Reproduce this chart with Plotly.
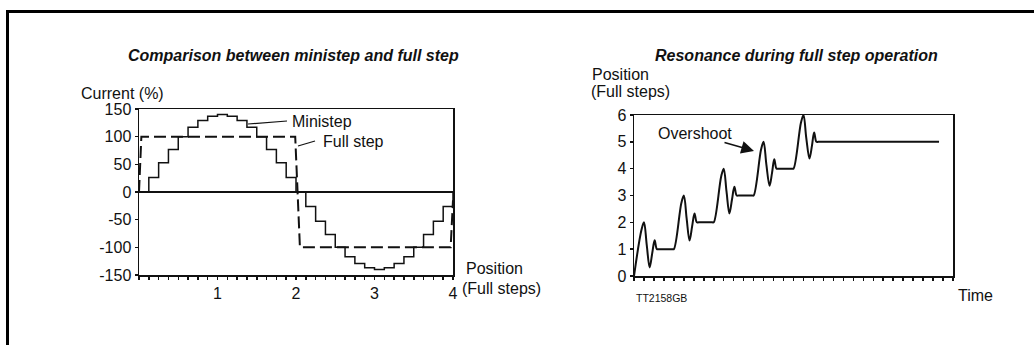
import plotly.graph_objects as go

W, H = 1034, 345

# ---------------- data: left chart (current vs position) ----------------
ministep_pos = [0, 0.125, 0.25, 0.375, 0.5, 0.625, 0.75, 0.875, 1.0, 1.125, 1.25, 1.375,
                1.5, 1.625, 1.75, 1.875, 2.0, 2.125, 2.25, 2.375, 2.5, 2.625, 2.75, 2.875,
                3.0, 3.125, 3.25, 3.375, 3.5, 3.625, 3.75, 3.875, 4.0]
ministep_current = [0, 26, 53, 77, 100, 117, 129, 137, 140, 137, 129, 117, 100, 77, 53, 26,
                    0, -26, -53, -77, -100, -117, -129, -137, -140, -137, -129, -117, -100,
                    -77, -53, -26, 0]
fullstep_pos = [0, 0.03, 1.99, 2.05, 3.97, 4.0]
fullstep_current = [0, 100, 100, -100, -100, -15]
left_y_ticks = [-150, -100, -50, 0, 50, 100, 150]
left_y_labels = ["-150", "-100", "-50", "0", "50", "100", "150"]
left_x_ticks = [1, 2, 3, 4]
left_x_labels = ["1", "2", "3", "4"]

# ---------------- data: right chart (position vs time) ----------------
res_time = [0, 0.75, 1.0, 1.28, 1.57, 1.83, 2.07, 2.3, 2.5, 3.85,
            4, 4.75, 5.0, 5.28, 5.57, 5.83, 6.07, 6.3, 6.5, 7.85,
            8, 8.75, 9.0, 9.28, 9.57, 9.83, 10.07, 10.3, 10.5, 11.85,
            12, 12.75, 13.0, 13.28, 13.6, 13.85, 14.07, 14.3, 14.5, 15.85,
            16, 16.75, 17.0, 17.28, 17.6, 17.85, 18.07, 18.3, 18.5, 30.6]
res_position = [0, 1.72, 2.0, 1.15, 0.32, 0.85, 1.33, 1.0, 1.0, 1.0,
                1, 2.72, 3.0, 2.15, 1.32, 1.85, 2.33, 2.0, 2.0, 2.0,
                2, 3.72, 4.0, 3.15, 2.33, 2.85, 3.33, 3.0, 3.0, 3.0,
                3, 4.72, 5.0, 4.15, 3.36, 3.85, 4.35, 4.0, 4.0, 4.0,
                4, 5.72, 6.0, 5.15, 4.38, 4.85, 5.35, 5.0, 5.0, 5.0]
right_y_ticks = [0, 1, 2, 3, 4, 5, 6]

FONT = "Liberation Sans, Arial, sans-serif"


def px(x):
    return x / W


def py(y):
    return 1 - y / H


fig = go.Figure()
fig.add_trace(go.Scatter(x=ministep_pos, y=ministep_current, mode="lines",
                         line=dict(color="#111", width=1.5, shape="hv"),
                         xaxis="x", yaxis="y", hoverinfo="skip"))
fig.add_trace(go.Scatter(x=fullstep_pos, y=fullstep_current, mode="lines",
                         line=dict(color="#111", width=2, dash="12px,5px"),
                         xaxis="x", yaxis="y", hoverinfo="skip"))
fig.add_trace(go.Scatter(x=res_time, y=res_position, mode="lines",
                         line=dict(color="#111", width=2, shape="spline", smoothing=1),
                         xaxis="x2", yaxis="y2", hoverinfo="skip", cliponaxis=True))

axis_common = dict(showline=True, linecolor="#111", linewidth=1.5, mirror=True,
                   showgrid=False, ticks="outside", ticklen=3, tickcolor="#111",
                   tickwidth=1.5, automargin=False,
                   tickfont=dict(family=FONT, size=16, color="#111"))

fig.update_layout(
    template="none",
    width=W, height=H, showlegend=False,
    paper_bgcolor="white", plot_bgcolor="white",
    margin=dict(l=0, r=0, t=0, b=0, pad=0, autoexpand=False),
    xaxis=dict(axis_common, domain=[px(139), px(453)], range=[0, 4],
               tickmode="array", tickvals=left_x_ticks, ticktext=left_x_labels,
               zeroline=False,
               minor=dict(dtick=0.125, tick0=0, ticks="outside", ticklen=3,
                          tickcolor="#111", tickwidth=1.5),
               anchor="y"),
    yaxis=dict(axis_common, domain=[py(275), py(109)], range=[-150, 150],
               tickmode="array", tickvals=left_y_ticks, ticktext=left_y_labels,
               zeroline=True, zerolinecolor="#111", zerolinewidth=1.2, anchor="x"),
    xaxis2=dict(axis_common, domain=[px(634), px(953)], range=[0, 32],
                dtick=1, tick0=0, showticklabels=False, zeroline=False,
                anchor="y2"),
    yaxis2=dict(axis_common, domain=[py(276), py(115)], range=[0, 6],
                tickmode="array", tickvals=right_y_ticks, zeroline=False, anchor="x2"),
)

def text(x, y, s, size=16, xanchor="left", **kw):
    fig.add_annotation(xref="paper", yref="paper", x=px(x), y=py(y), text=s,
                       showarrow=False, xanchor=xanchor, yanchor="middle",
                       font=dict(family=FONT, size=size, color="#111"), **kw)

# left chart texts
text(293, 55, "<b><i>Comparison between ministep and full step</i></b>", size=16, xanchor="center")
text(79, 93, "Current (%)")
text(290, 121, "Ministep")
text(321, 142, "Full step")
text(464, 268, "Position")
text(460, 288, "(Full steps)")

# right chart texts
text(796, 55, "<b><i>Resonance during full step operation</i></b>", size=16, xanchor="center")
text(590, 74, "Position")
text(589, 92, "(Full steps)")
text(656, 133, "Overshoot")
text(634, 298, "TT2158GB", size=10.5)
text(956, 295, "Time")

# leader lines
line_style = dict(color="#111", width=1.2)
fig.add_shape(type="line", xref="paper", yref="paper", x0=px(248), y0=py(124),
              x1=px(287), y1=py(121), line=line_style)
fig.add_shape(type="line", xref="paper", yref="paper", x0=px(298), y0=py(146),
              x1=px(315), y1=py(141), line=line_style)

# overshoot arrow (tail offset in pixels from the head)
fig.add_annotation(xref="paper", yref="paper",
                   x=px(754), y=py(151), ax=-31, ay=-9, text="",
                   showarrow=True, arrowhead=2, arrowsize=1.7, arrowwidth=1.5,
                   arrowcolor="#111", standoff=0)

# page frame (top and left edges)
fig.add_shape(type="line", xref="paper", yref="paper", x0=px(6), y0=py(11.5),
              x1=px(1034), y1=py(11.5), line=dict(color="black", width=3))
fig.add_shape(type="line", xref="paper", yref="paper", x0=px(7.5), y0=py(10),
              x1=px(7.5), y1=py(345), line=dict(color="black", width=3))

fig.write_html("out.html",
               config={"displayModeBar": False, "staticPlot": True},
               post_script="document.body.style.margin='0px';"
                           "document.body.style.overflow='hidden';")
